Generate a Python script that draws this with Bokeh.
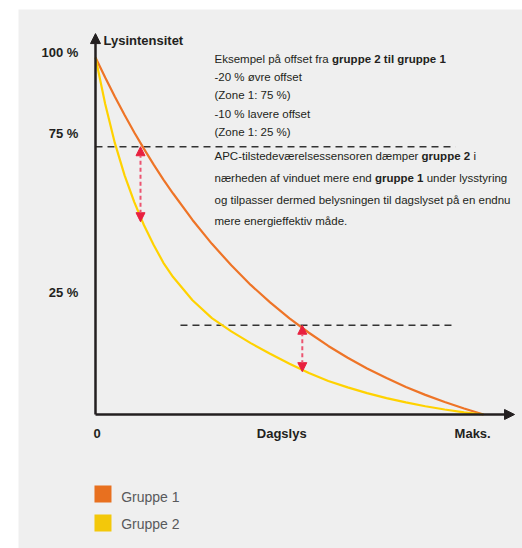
import numpy as np
from bokeh.plotting import figure
from bokeh.models import Range1d, Arrow, NormalHead, ColumnDataSource
from bokeh.core.properties import value
from bokeh.embed import file_html
from bokeh.resources import INLINE

# ---- data ----
daylight = [0, 0.025, 0.05, 0.075, 0.1, 0.125, 0.15, 0.175, 0.2, 0.25, 0.3, 0.35, 0.4,
            0.45, 0.5, 0.55, 0.6, 0.65, 0.7, 0.75, 0.8, 0.85, 0.9, 0.95, 1.0]
gruppe1 = [100, 94.4, 89.0, 83.9, 79.0, 74.4, 70.0, 65.8, 61.9, 54.5, 47.8, 41.8, 36.3,
           31.4, 26.9, 22.9, 19.2, 15.9, 12.9, 10.2, 7.7, 5.5, 3.5, 1.7, 0]
gruppe2 = [100, 87, 76, 67, 59.5, 53, 47.5, 42.5, 38.5, 32, 27, 23.3, 20.0,
           17.0, 14.2, 11.6, 9.4, 7.6, 6.0, 4.6, 3.4, 2.3, 1.4, 0.6, 0]

offset_levels = [75, 25]          # dashed reference levels (%)
offset_start = [0.0, 0.219]       # where dashed lines start on daylight axis
offset_end = [0.928, 0.928]
arrow_x = [0.116, 0.533]
arrow_top = [75, 25]
arrow_bottom = [54, 12]

y_tick_labels = ["100 %", "75 %", "25 %"]
x_tick_labels = ["0", "Dagslys", "Maks."]
series_names = ["Gruppe 1", "Gruppe 2"]

ORANGE = "#ee7427"
YELLOW = "#ffd200"
ORANGE_SW = "#e8701f"
YELLOW_SW = "#f3c80a"
DARK = "#231f20"
RED = "#e8203f"
RED_LINE = "#ec5470"

FONT = value("Liberation Sans")

p = figure(width=522, height=548,
           x_range=Range1d(-0.19845, 1.10052), y_range=Range1d(-37.535, 113.445),
           output_backend="svg", toolbar_location=None,
           x_axis_location=None, y_axis_location=None,
           min_border_left=18, min_border_top=9, min_border_right=0, min_border_bottom=0)
p.grid.visible = False
p.outline_line_color = None
p.background_fill_color = "#efefef"
p.border_fill_color = "white"

# dashed horizontal levels
p.segment(x0=offset_start, y0=offset_levels, x1=offset_end, y1=offset_levels,
          line_color="#333333", line_width=1.3, line_dash="7 5")

# curves
p.line(daylight, gruppe1, line_color=ORANGE, line_width=2.2)
p.line(daylight, gruppe2, line_color=YELLOW, line_width=2.2)

# red double arrows
asrc = ColumnDataSource(dict(x0=arrow_x, y0=arrow_top, x1=arrow_x, y1=arrow_bottom))
p.add_layout(Arrow(start=NormalHead(size=9, fill_color=RED, line_color=RED),
                   end=NormalHead(size=9, fill_color=RED, line_color=RED),
                   x_start="x0", y_start="y0", x_end="x1", y_end="y1", source=asrc,
                   line_color=RED_LINE, line_width=2, line_dash="4 3"))

# axes with arrowheads
p.add_layout(Arrow(end=NormalHead(size=10, fill_color=DARK, line_color=DARK),
                   x_start=0, y_start=0, x_end=0, y_end=106.7,
                   line_color=DARK, line_width=2.5))
p.add_layout(Arrow(end=NormalHead(size=10, fill_color=DARK, line_color=DARK),
                   x_start=0, y_start=0, x_end=1.08, y_end=0,
                   line_color=DARK, line_width=2.5))

# tick labels
p.text(x=[-0.044] * 3, y=[101.4, 78.7, 34.2], text=y_tick_labels,
       text_font=FONT, text_font_style="bold", text_font_size="13px",
       text_color=DARK, text_align="right", text_baseline="middle")
p.text(x=[0.004, 0.48, 0.972], y=[-5.3] * 3, text=x_tick_labels,
       text_font=FONT, text_font_style="bold", text_font_size="13px",
       text_color=DARK, text_align="center", text_baseline="middle")
p.text(x=[0.0206], y=[104.8], text=["Lysintensitet"],
       text_font=FONT, text_font_style="bold", text_font_size="13px",
       text_color=DARK, text_align="left", text_baseline="middle")

# annotation text
TX = 0.3067
normal_off = [0, 132.8, 0, 0, 0, 0, 0, 258.9, 0, 212.2, 0, 0]
normal_y = [99.44, 99.44, 94.40, 89.36, 84.31, 79.13, 72.27, 72.27, 66.25, 66.25, 60.22, 54.34]
normal_t = ["Eksempel på offset fra",
            ":",
            "-20 % øvre offset",
            "(Zone 1: 75 %)",
            "-10 % lavere offset",
            "(Zone 1: 25 %)",
            "APC-tilstedeværelsessensoren dæmper",
            "i",
            "nærheden af vinduet mere end",
            "under lysstyring",
            "og tilpasser dermed belysningen til dagslyset på en endnu",
            "mere energieffektiv måde."]
p.text(x=[TX] * len(normal_t), y=normal_y, text=normal_t, x_offset=normal_off,
       text_font=FONT, text_font_size="11.5px",
       text_color=DARK, text_align="left", text_baseline="middle")
bold_off = [117.6, 207.1, 160.4]
bold_y = [99.44, 72.27, 66.25]
bold_t = ["gruppe 2 til gruppe 1", "gruppe 2", "gruppe 1"]
p.text(x=[TX] * 3, y=bold_y, text=bold_t, x_offset=bold_off,
       text_font=FONT, text_font_style="bold",
       text_font_size="11.5px", text_color=DARK, text_align="left", text_baseline="middle")

# legend: square swatches + labels
legend_y = [-22.27, -30.39]
p.scatter(x=[0.0193, 0.0193], y=legend_y, marker="square", size=17,
          fill_color=[ORANGE_SW, YELLOW_SW], line_color=None)
p.text(x=[0.0662, 0.0662], y=[-22.97, -30.81], text=series_names,
       text_font=value("Liberation Sans"), text_font_size="14px", text_color="#58595b",
       text_align="left", text_baseline="middle")

open("out.html", "w").write(file_html(p, INLINE))
